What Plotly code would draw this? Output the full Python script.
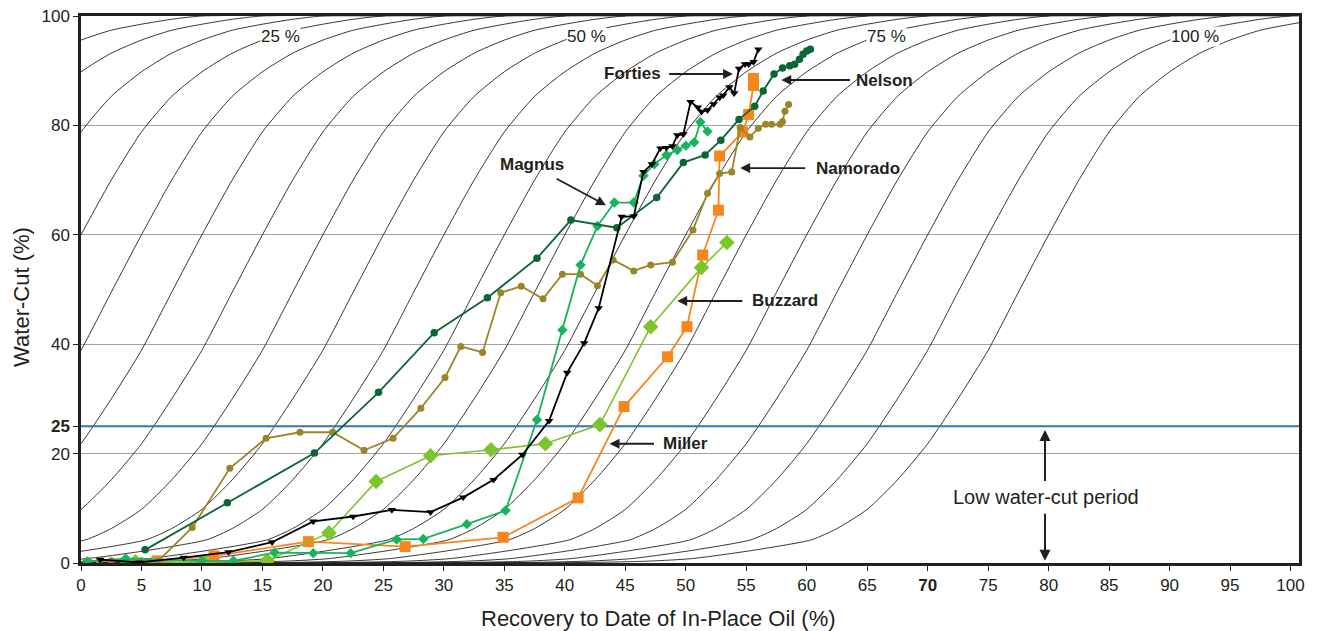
import plotly.graph_objects as go

# ---------------- data ----------------
namorado_x = [0.6, 1.5, 2.5, 3.5, 5.0, 6.4, 9.2, 12.3, 15.3, 18.1, 20.8, 23.4, 25.8, 28.1, 30.1, 31.4, 33.2, 34.7,
              36.4, 38.2, 39.8, 41.3, 42.7, 44.0, 45.7, 47.1, 48.9, 50.6, 51.8, 52.8, 53.8, 54.5, 55.3, 56.0, 56.6,
              57.1, 57.8, 58.0, 58.2, 58.5]
namorado_y = [0.4, 0.4, 0.4, 0.4, 0.4, 0.4, 6.5, 17.3, 22.8, 23.9, 23.9, 20.6, 22.8, 28.3, 33.9, 39.6, 38.5, 49.4,
              50.6, 48.3, 52.8, 52.8, 50.7, 55.4, 53.4, 54.5, 55.0, 60.9, 67.6, 71.2, 71.5, 79.6, 77.9, 79.5, 80.2,
              80.2, 80.2, 80.7, 82.6, 83.8]

nelson_x = [5.3, 12.1, 19.3, 24.6, 29.2, 33.6, 37.7, 40.5, 44.3, 47.6, 49.8, 51.6, 52.9, 54.4, 55.7, 56.4, 57.3,
            58.0, 58.6, 59.0, 59.4, 59.7, 60.0, 60.3]
nelson_y = [2.4, 11.0, 20.1, 31.2, 42.1, 48.5, 55.7, 62.7, 61.3, 66.8, 73.2, 74.6, 77.3, 81.1, 83.5, 86.3, 89.4,
            90.5, 90.9, 91.2, 92.1, 93.0, 93.6, 93.9]

forties_x = [1.6, 4.8, 8.5, 12.2, 15.8, 19.2, 22.5, 25.7, 28.9, 31.6, 34.1, 36.5, 38.7, 40.2, 41.6, 42.8, 44.7,
             45.7, 46.5, 47.2, 47.9, 48.4, 48.9, 49.3, 49.8, 50.4, 51.0, 51.3, 51.8, 52.3, 52.8, 53.1, 53.6, 54.0,
             54.4, 54.9, 55.2, 55.6, 56.0]
forties_y = [0.6, 0.1, 1.0, 2.0, 3.8, 7.6, 8.5, 9.7, 9.3, 12.0, 15.2, 19.8, 26.0, 34.8, 40.2, 46.6, 63.3,
             63.4, 71.5, 72.9, 75.8, 75.9, 76.2, 78.2, 78.4, 84.3, 83.3, 82.5, 82.8, 83.9, 85.1, 85.5, 87.0, 85.9,
             90.4, 91.2, 91.2, 91.6, 93.9]

magnus_x = [0.5, 3.7, 10.0, 12.6, 16.0, 19.2, 22.3, 26.1, 28.3, 31.9, 35.1, 37.7, 39.8, 41.3, 42.7, 44.1, 45.7,
            46.5, 47.4, 48.4, 49.3, 50.0, 50.7, 51.2, 51.8]
magnus_y = [0.3, 0.8, 0.4, 0.4, 1.9, 1.8, 1.8, 4.3, 4.4, 7.1, 9.6, 26.2, 42.6, 54.5, 61.6, 65.9, 65.9,
            70.8, 72.9, 74.6, 75.5, 76.3, 76.9, 80.6, 78.9]

miller_x = [6.3, 11.0, 18.8, 26.8, 34.9, 41.1, 44.9, 48.5, 50.1, 51.4, 52.7, 52.8, 54.7, 55.2, 55.6, 55.6]
miller_y = [0.4, 1.3, 3.9, 3.0, 4.7, 11.9, 28.6, 37.7, 43.2, 56.3, 64.5, 74.4, 78.8, 82.0, 87.3, 88.6]

buzzard_x = [4.5, 10.3, 15.4, 20.5, 24.4, 28.9, 33.9, 38.4, 42.9, 47.1, 51.3, 53.4]
buzzard_y = [0.2, 0.1, 0.4, 5.5, 14.9, 19.6, 20.7, 21.8, 25.3, 43.2, 54.0, 58.6]

# background type-curve: one shape (offset from the 60 % crossing, water-cut),
# repeated for each curve's 60 % crossing position
type_curve_dx = [-48, -38, -33, -29.5, -24.5, -19.6, -17.5, -15, -12.5, -10, -7.5, -5, -2.5, 0, 2.5, 5, 7.5,
                 10, 12.5, 15, 17.5, 20, 22.5, 25, 40]
type_curve_wc = [0, 0.1, 0.35, 0.8, 2.3, 4.25, 6.3, 9.8, 15.2, 21.8, 30.0, 38.9, 49.5, 60, 70, 78.8, 85.3,
                 89.8, 93.2, 95.6, 97.4, 98.5, 99.4, 100, 100]
type_curve_shifts = [-15, -10, -5, 0, 5, 10, 15, 20, 25, 30, 35, 40, 45, 50, 55, 60, 65, 70, 75, 80]
type_curve_labels = ["25 %", "50 %", "75 %", "100 %"]
type_curve_label_x = [16.5, 41.8, 66.6, 92.1]

low_wc_limit = 25
x_ticks = list(range(0, 101, 5))
y_ticks = [0, 20, 25, 40, 60, 80, 100]

# ---------------- figure ----------------
FONT = "Liberation Sans, Arial, Helvetica, sans-serif"
INK = "#231f20"
X_MAX = 100.7

fig = go.Figure()

for s in type_curve_shifts:
    fig.add_trace(go.Scatter(
        x=[s + d for d in type_curve_dx], y=type_curve_wc, mode="lines",
        line=dict(color=INK, width=0.9, shape="spline", smoothing=0.6),
        hoverinfo="skip", showlegend=False))

fig.add_trace(go.Scatter(x=[0, X_MAX], y=[low_wc_limit, low_wc_limit], mode="lines",
                         line=dict(color="#3a72b8", width=1.8), hoverinfo="skip", showlegend=False))

series = [
    ("Miller", miller_x, miller_y, "#f7861d", "square", 11, 1.8),
    ("Buzzard", buzzard_x, buzzard_y, "#7cc52b", "diamond", 12, 1.6),
    ("Namorado", namorado_x, namorado_y, "#9b8528", "circle", 7, 1.8),
    ("Magnus", magnus_x, magnus_y, "#16b55d", "diamond", 8, 1.8),
    ("Nelson", nelson_x, nelson_y, "#0a6636", "circle", 7.5, 1.8),
    ("Forties", forties_x, forties_y, "#000000", "triangle-down", 7.5, 1.8),
]
for name, xs, ys, col, sym, size, lw in series:
    fig.add_trace(go.Scatter(x=xs, y=ys, name=name, mode="lines+markers",
                             line=dict(color=col, width=lw),
                             marker=dict(color=col, symbol=sym, size=size, line=dict(width=0)),
                             showlegend=False))

annotations = []
# curve labels
for lab, lx in zip(type_curve_labels, type_curve_label_x):
    annotations.append(dict(x=lx, y=96.2, text=lab, showarrow=False, bgcolor="white",
                            font=dict(family=FONT, size=17, color=INK), borderpad=0))

# field labels with arrows: (text, text_x, text_y, tail_x, tail_y, head_x, head_y)
field_labels = [
    ("Forties", 45.6, 89.4, 48.5, 89.4, 53.9, 89.4),
    ("Nelson", 66.4, 88.3, 63.7, 88.3, 57.9, 88.3),
    ("Magnus", 37.3, 72.8, 39.2, 70.4, 43.4, 65.4),
    ("Namorado", 64.2, 72.2, 60.0, 72.2, 54.5, 72.2),
    ("Buzzard", 58.2, 47.9, 54.8, 47.9, 49.3, 47.9),
    ("Miller", 50.0, 21.8, 47.5, 21.8, 43.7, 21.8),
]
for txt, tx, ty, ax_, ay_, hx, hy in field_labels:
    annotations.append(dict(x=tx, y=ty, text=f"<b>{txt}</b>", showarrow=False,
                            font=dict(family=FONT, size=17, color=INK)))
    annotations.append(dict(x=hx, y=hy, ax=ax_, ay=ay_, axref="x", ayref="y", text="",
                            showarrow=True, arrowhead=2, arrowsize=1.1, arrowwidth=1.8, arrowcolor=INK))

annotations.append(dict(x=79.8, y=12.1, text="Low water-cut period", showarrow=False,
                        font=dict(family=FONT, size=20, color=INK)))
annotations.append(dict(x=79.7, y=24.3, ax=79.7, ay=14.7, axref="x", ayref="y", text="",
                        showarrow=True, arrowhead=2, arrowsize=1.1, arrowwidth=2, arrowcolor=INK))
annotations.append(dict(x=79.7, y=0.4, ax=79.7, ay=9.3, axref="x", ayref="y", text="",
                        showarrow=True, arrowhead=2, arrowsize=1.1, arrowwidth=2, arrowcolor=INK))

# axis titles (placed as in the reference, not centred on the plot)
annotations.append(dict(xref="paper", yref="paper", x=0.4745, y=-0.102, xanchor="center", yanchor="middle",
                        text="Recovery to Date of In-Place Oil (%)", showarrow=False,
                        font=dict(family=FONT, size=22, color=INK)))
annotations.append(dict(xref="paper", yref="paper", x=-0.0484, y=0.4866, xanchor="center", yanchor="middle",
                        text="Water-Cut (%)", textangle=-90, showarrow=False,
                        font=dict(family=FONT, size=22, color=INK)))

fig.update_layout(
    width=1318, height=631,
    margin=dict(l=81, r=19, t=16, b=68, autoexpand=False),
    paper_bgcolor="white", plot_bgcolor="white",
    annotations=annotations,
    font=dict(family=FONT, color=INK),
    xaxis=dict(range=[0, X_MAX], tickvals=x_ticks, automargin=False,
               ticktext=[f"<b>{v}</b>" if v == 70 else str(v) for v in x_ticks],
               ticks="outside", ticklen=5, tickwidth=1, tickcolor=INK,
               showgrid=False, zeroline=False,
               showline=True, linecolor=INK, linewidth=2.5, mirror=True,
               tickfont=dict(family=FONT, size=17, color=INK)),
    yaxis=dict(range=[0, 100], tickvals=y_ticks, automargin=False,
               ticktext=[f"<b>{v}</b>" if v == 25 else str(v) for v in y_ticks],
               ticks="outside", ticklen=5, tickwidth=1, tickcolor=INK,
               showgrid=True, gridcolor="#a3a3a3", gridwidth=1, zeroline=False,
               showline=True, linecolor=INK, linewidth=2.5, mirror=True,
               tickfont=dict(family=FONT, size=17, color=INK)),
)

fig.write_html("out.html", config={"displayModeBar": False},
               post_script="document.body.style.margin='0';")
